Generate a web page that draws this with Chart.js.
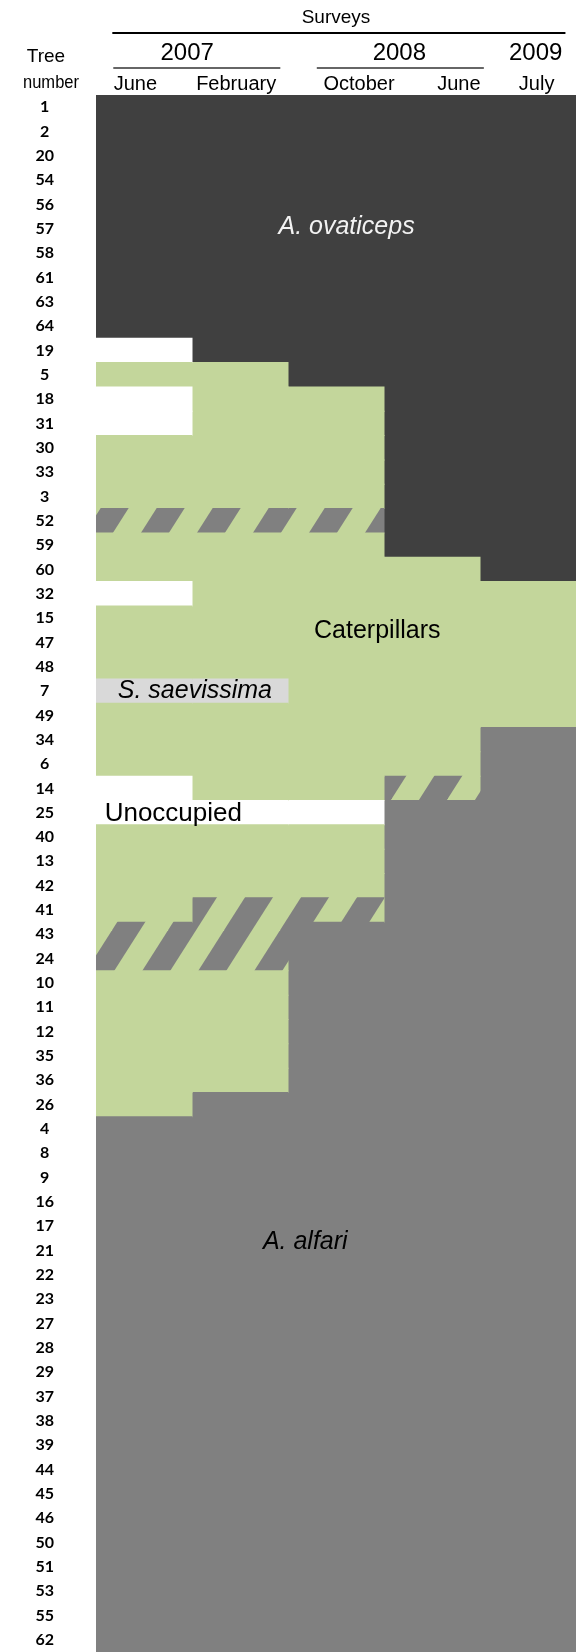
<!DOCTYPE html>
<html>
<head>
<meta charset="utf-8">
<script src="https://cdn.jsdelivr.net/npm/chart.js@4.4.0/dist/chart.umd.min.js"></script>
<style>
  body { margin: 0; background: #fff; }
  #wrap { width: 576px; height: 1652px; }
</style>
</head>
<body>
<div id="wrap"><canvas id="chart" width="576" height="1652"></canvas></div>
<script>
// tree numbers, top to bottom
const trees = [
  '1', '2', '20', '54', '56', '57', '58', '61', '63', '64',
  '19', '5', '18', '31', '30', '33', '3', '52', '59', '60',
  '32', '15', '47', '48', '7', '49', '34', '6', '14', '25',
  '40', '13', '42', '41', '43', '24', '10', '11', '12', '35',
  '36', '26', '4', '8', '9', '16', '17', '21', '22', '23',
  '27', '28', '29', '37', '38', '39', '44', '45', '46', '50',
  '51', '53', '55', '62'
];

const months = ['June', 'February', 'October', 'June', 'July'];
const years = ['2007', '2008', '2009'];

// O = A. ovaticeps, A = A. alfari, C = caterpillars, S = S. saevissima,
// U = unoccupied, H = caterpillars mixed with A. alfari (hatched)
const june2007 = [
  'O', 'O', 'O', 'O', 'O', 'O', 'O', 'O', 'O', 'O',
  'U', 'C', 'U', 'U', 'C', 'C', 'C', 'H', 'C', 'C',
  'U', 'C', 'C', 'C', 'S', 'C', 'C', 'C', 'U', 'U',
  'C', 'C', 'C', 'C', 'H', 'H', 'C', 'C', 'C', 'C',
  'C', 'C', 'A', 'A', 'A', 'A', 'A', 'A', 'A', 'A',
  'A', 'A', 'A', 'A', 'A', 'A', 'A', 'A', 'A', 'A',
  'A', 'A', 'A', 'A'
];
const feb2007 = [
  'O', 'O', 'O', 'O', 'O', 'O', 'O', 'O', 'O', 'O',
  'O', 'C', 'C', 'C', 'C', 'C', 'C', 'H', 'C', 'C',
  'C', 'C', 'C', 'C', 'S', 'C', 'C', 'C', 'C', 'U',
  'C', 'C', 'C', 'H', 'H', 'H', 'C', 'C', 'C', 'C',
  'C', 'A', 'A', 'A', 'A', 'A', 'A', 'A', 'A', 'A',
  'A', 'A', 'A', 'A', 'A', 'A', 'A', 'A', 'A', 'A',
  'A', 'A', 'A', 'A'
];
const oct2008 = [
  'O', 'O', 'O', 'O', 'O', 'O', 'O', 'O', 'O', 'O',
  'O', 'O', 'C', 'C', 'C', 'C', 'C', 'H', 'C', 'C',
  'C', 'C', 'C', 'C', 'C', 'C', 'C', 'C', 'C', 'U',
  'C', 'C', 'C', 'H', 'A', 'A', 'A', 'A', 'A', 'A',
  'A', 'A', 'A', 'A', 'A', 'A', 'A', 'A', 'A', 'A',
  'A', 'A', 'A', 'A', 'A', 'A', 'A', 'A', 'A', 'A',
  'A', 'A', 'A', 'A'
];
const june2008 = [
  'O', 'O', 'O', 'O', 'O', 'O', 'O', 'O', 'O', 'O',
  'O', 'O', 'O', 'O', 'O', 'O', 'O', 'O', 'O', 'C',
  'C', 'C', 'C', 'C', 'C', 'C', 'C', 'C', 'H', 'A',
  'A', 'A', 'A', 'A', 'A', 'A', 'A', 'A', 'A', 'A',
  'A', 'A', 'A', 'A', 'A', 'A', 'A', 'A', 'A', 'A',
  'A', 'A', 'A', 'A', 'A', 'A', 'A', 'A', 'A', 'A',
  'A', 'A', 'A', 'A'
];
const july2009 = [
  'O', 'O', 'O', 'O', 'O', 'O', 'O', 'O', 'O', 'O',
  'O', 'O', 'O', 'O', 'O', 'O', 'O', 'O', 'O', 'O',
  'C', 'C', 'C', 'C', 'C', 'C', 'A', 'A', 'A', 'A',
  'A', 'A', 'A', 'A', 'A', 'A', 'A', 'A', 'A', 'A',
  'A', 'A', 'A', 'A', 'A', 'A', 'A', 'A', 'A', 'A',
  'A', 'A', 'A', 'A', 'A', 'A', 'A', 'A', 'A', 'A',
  'A', 'A', 'A', 'A'
];

const surveys = [june2007, feb2007, oct2008, june2008, july2009];

// diagonal stripes, grey on green
function makeHatch() {
  const w = 56, h = 88, band = 28, a = 32;
  const tile = document.createElement('canvas');
  tile.width = w;
  tile.height = h;
  const t = tile.getContext('2d');
  t.fillStyle = '#c3d69b';
  t.fillRect(0, 0, w, h);
  t.fillStyle = '#808080';
  for (let k = -1; k <= 2; k++) {
    const x0 = a + k * w;
    t.beginPath();
    t.moveTo(x0, 0);
    t.lineTo(x0 + band, 0);
    t.lineTo(x0 + band - w, h);
    t.lineTo(x0 - w, h);
    t.closePath();
    t.fill();
  }
  return document.getElementById('chart').getContext('2d').createPattern(tile, 'repeat');
}

const colors = {
  O: '#404040',
  A: '#808080',
  C: '#c3d69b',
  S: '#d9d9d9',
  U: '#ffffff',
  H: makeHatch()
};

const textFont = '"Liberation Sans", Arial, sans-serif';

const headerPlugin = {
  id: 'header',
  afterDraw(chart) {
    const ctx = chart.ctx;
    const px = v => chart.scales.x.getPixelForValue(v);
    const monthX = [0.41, 1.46, 2.74, 3.78, 4.59];
    const yearX = [0.95, 3.16, 4.58];
    const yearLines = [[0.18, 1.92], [2.30, 4.04]];

    ctx.save();
    ctx.fillStyle = '#000';
    ctx.textAlign = 'center';
    ctx.textBaseline = 'alphabetic';

    ctx.font = '19px ' + textFont;
    ctx.fillText('Surveys', px(2.5), 23);

    ctx.strokeStyle = '#000';
    ctx.lineWidth = 2;
    ctx.beginPath();
    ctx.moveTo(px(0.17), 33);
    ctx.lineTo(px(4.89), 33);
    ctx.stroke();

    ctx.font = '24px ' + textFont;
    years.forEach((yr, i) => ctx.fillText(yr, px(yearX[i]), 60));

    ctx.strokeStyle = '#333';
    ctx.lineWidth = 1.3;
    yearLines.forEach(([a, b]) => {
      ctx.beginPath();
      ctx.moveTo(px(a), 68);
      ctx.lineTo(px(b), 68);
      ctx.stroke();
    });

    ctx.font = '20px ' + textFont;
    months.forEach((m, i) => ctx.fillText(m, px(monthX[i]), 90));

    ctx.font = '19px ' + textFont;
    ctx.fillText('Tree', 46, 62);
    ctx.fillText('number', 51, 88, 56);
    ctx.restore();
  }
};

const notesPlugin = {
  id: 'notes',
  afterDatasetsDraw(chart) {
    const ctx = chart.ctx;
    const xs = chart.scales.x, ys = chart.scales.y;
    const notes = [
      { text: 'A. ovaticeps', x: 2.61, y: 5.21, italic: true, color: '#f2f2f2' },
      { text: 'Caterpillars', x: 2.93, y: 21.82 },
      { text: 'S. saevissima', x: 1.03, y: 24.3, italic: true },
      { text: 'Unoccupied', x: 0.09, y: 29.35, align: 'left', size: 26 },
      { text: 'A. alfari', x: 2.18, y: 46.93, italic: true }
    ];
    ctx.save();
    ctx.textBaseline = 'alphabetic';
    notes.forEach(n => {
      ctx.font = (n.italic ? 'italic ' : '') + (n.size || 25) + 'px ' + textFont;
      ctx.fillStyle = n.color || '#000';
      ctx.textAlign = n.align || 'center';
      ctx.fillText(n.text, xs.getPixelForValue(n.x), ys.getPixelForValue(n.y));
    });
    ctx.restore();
  }
};

const datasets = surveys.map((states, i) => ({
  label: months[i],
  data: states.map(() => 1),
  backgroundColor: states.map(s => colors[s]),
  borderWidth: 0,
  inflateAmount: 0.5,
  barPercentage: 1,
  categoryPercentage: 1
}));

new Chart(document.getElementById('chart'), {
  type: 'bar',
  data: { labels: trees, datasets: datasets },
  options: {
    indexAxis: 'y',
    responsive: false,
    animation: false,
    events: [],
    layout: { padding: { top: 95, left: 0, right: 0, bottom: 0 } },
    plugins: {
      legend: { display: false },
      tooltip: { enabled: false }
    },
    scales: {
      x: {
        stacked: true,
        min: 0,
        max: 5,
        display: false
      },
      y: {
        stacked: true,
        grid: { display: false, drawTicks: false },
        border: { display: false },
        ticks: {
          autoSkip: false,
          crossAlign: 'center',
          padding: 42,
          color: '#000',
          font: { family: 'Lato', weight: 'bold', size: 16 }
        },
        afterFit: (scale) => {
          scale.width = 96;
          scale.paddingTop = 0;
          scale.paddingBottom = 0;
        }
      }
    }
  },
  plugins: [headerPlugin, notesPlugin]
});
</script>
</body>
</html>
